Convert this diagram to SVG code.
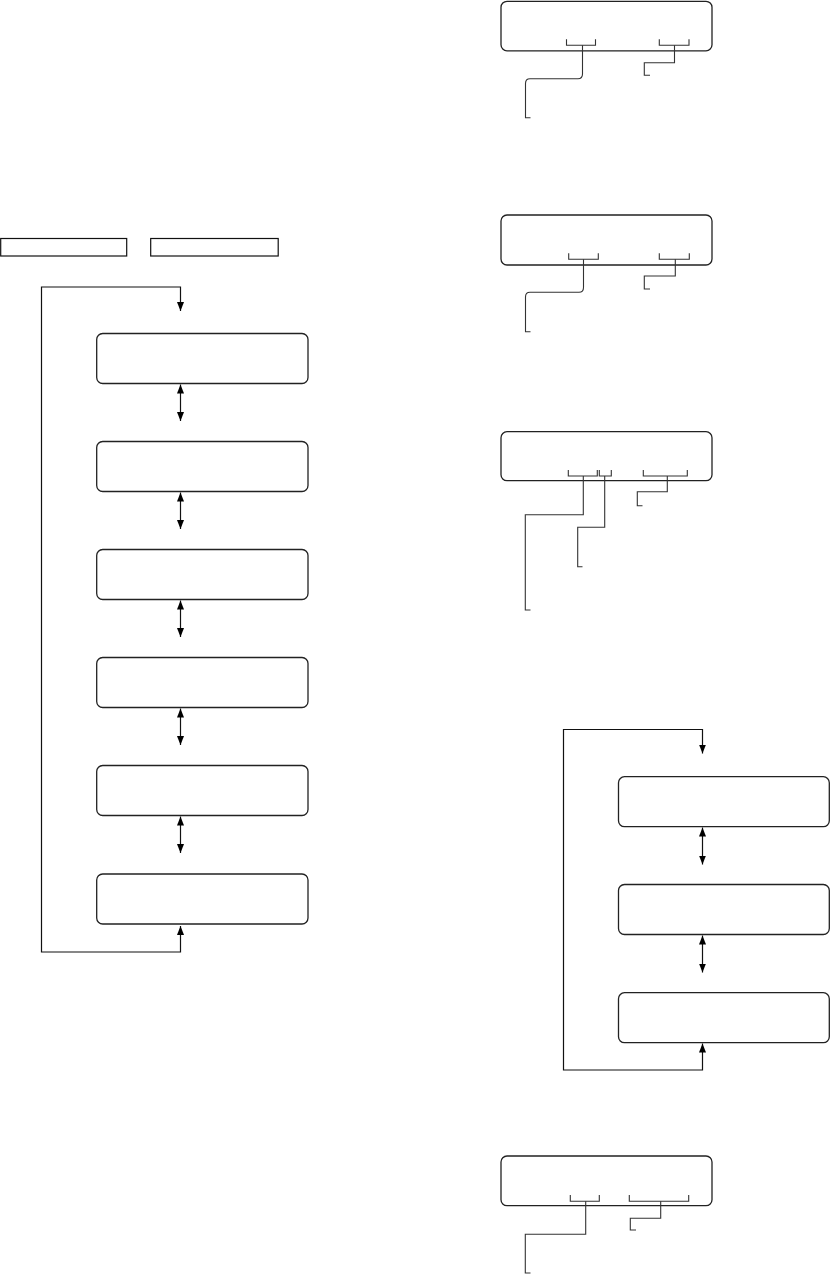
<svg xmlns="http://www.w3.org/2000/svg" width="830" height="1274" viewBox="0 0 830 1274">
<style>
.box{fill:#fff;stroke:#222;stroke-width:1.3}
.sq{fill:#fff;stroke:#111;stroke-width:1.2}
.ln{fill:none;stroke:#111;stroke-width:1.2}
.co{fill:none;stroke:#333;stroke-width:1.1}
</style>
<defs>
<marker id="ah" viewBox="0 0 9 7" refX="9" refY="3.5" markerWidth="9" markerHeight="7" markerUnits="userSpaceOnUse" orient="auto-start-reverse">
<path d="M0,0 L9,3.5 L0,7 Z" fill="#000"/>
</marker>
</defs>
<rect width="830" height="1274" fill="#fff"/>

<g id="label-left-1"><rect class="sq" x="0.7" y="238.5" width="126" height="17.5"/></g>
<g id="label-left-2"><rect class="sq" x="150.7" y="238.5" width="127.5" height="17.5"/></g>

<g id="left-box-1"><rect class="box" x="96.7" y="333.5" width="211.3" height="50" rx="6"/></g>
<g id="left-box-2"><rect class="box" x="96.7" y="441.5" width="211.3" height="50" rx="6"/></g>
<g id="left-box-3"><rect class="box" x="96.7" y="549.5" width="211.3" height="50" rx="6"/></g>
<g id="left-box-4"><rect class="box" x="96.7" y="657.5" width="211.3" height="50" rx="6"/></g>
<g id="left-box-5"><rect class="box" x="96.7" y="765.5" width="211.3" height="50" rx="6"/></g>
<g id="left-box-6"><rect class="box" x="96.7" y="874" width="211.3" height="50" rx="6"/></g>

<g id="right-box-1"><rect class="box" x="618.5" y="776.7" width="210.8" height="50" rx="6"/></g>
<g id="right-box-2"><rect class="box" x="618.5" y="884.5" width="210.8" height="50" rx="6"/></g>
<g id="right-box-3"><rect class="box" x="618.5" y="992.7" width="210.8" height="50" rx="6"/></g>

<g id="display-1"><rect class="box" x="501" y="1.3" width="211" height="49.5" rx="6"/></g>
<g id="display-2"><rect class="box" x="501" y="215" width="211" height="50" rx="6"/></g>
<g id="display-3"><rect class="box" x="501" y="431.7" width="211" height="49" rx="6"/></g>
<g id="display-4"><rect class="box" x="501" y="1156" width="211" height="49.7" rx="6"/></g>

<g id="connectors">
<path class="ln" d="M180.5,926 V952 H41.5 V287 H180.5 V311" marker-start="url(#ah)" marker-end="url(#ah)"/>
<path class="ln" d="M180.5,384.5 V421" marker-start="url(#ah)" marker-end="url(#ah)"/>
<path class="ln" d="M180.5,492.5 V529" marker-start="url(#ah)" marker-end="url(#ah)"/>
<path class="ln" d="M180.5,600.5 V637" marker-start="url(#ah)" marker-end="url(#ah)"/>
<path class="ln" d="M180.5,708.5 V745" marker-start="url(#ah)" marker-end="url(#ah)"/>
<path class="ln" d="M180.5,816.5 V853" marker-start="url(#ah)" marker-end="url(#ah)"/>

<path class="ln" d="M702.5,1043.5 V1070 H563.5 V729.5 H702.5 V753.5" marker-start="url(#ah)" marker-end="url(#ah)"/>
<path class="ln" d="M702.5,827.5 V864.5" marker-start="url(#ah)" marker-end="url(#ah)"/>
<path class="ln" d="M702.5,935.5 V972.5" marker-start="url(#ah)" marker-end="url(#ah)"/>

<!-- display 1 callouts -->
<path class="co" d="M566.5,39.3 V45.3 H595.5 V39.3"/>
<path class="co" d="M582.5,45.3 V74 Q582.5,78.7 578,78.7 H530 Q525.5,78.7 525.5,83.5 V117.7 H530.5"/>
<path class="co" d="M659.3,39.3 V45.3 H689 V39.3"/>
<path class="co" d="M674.5,45.3 V62.7 H644.3 V75.3 H650"/>

<!-- display 2 callouts -->
<path class="co" d="M568.7,253.3 V259.3 H598.3 V253.3"/>
<path class="co" d="M583.5,259.3 V287.5 Q583.5,292.3 579,292.3 H530 Q525.5,292.3 525.5,297 V331.7 H530.5"/>
<path class="co" d="M659.3,253.3 V259.3 H689.3 V253.3"/>
<path class="co" d="M675.3,259.3 V276 H644.3 V289 H650"/>

<!-- display 3 callouts -->
<path class="co" d="M568.3,470 V476 H597.3 V470"/>
<path class="co" d="M599.3,470 V476 H611.3 V470"/>
<path class="co" d="M643.3,470 V476 H687.3 V470"/>
<path class="co" d="M583.3,476 V514.7 H525.3 V610 H530.5"/>
<path class="co" d="M604.7,476 V527.3 H577.7 V566.7 H582.5"/>
<path class="co" d="M667.3,476 V491.7 H637.3 V505.7 H642.5"/>

<!-- display 4 callouts -->
<path class="co" d="M570.3,1195 V1201.3 H599.3 V1195"/>
<path class="co" d="M629.3,1195 V1201.3 H688.7 V1195"/>
<path class="co" d="M585.7,1201.3 V1234.3 H525.3 V1273 H530.5"/>
<path class="co" d="M660.7,1201.3 V1218.3 H630.3 V1230 H636"/>
</g>
</svg>
